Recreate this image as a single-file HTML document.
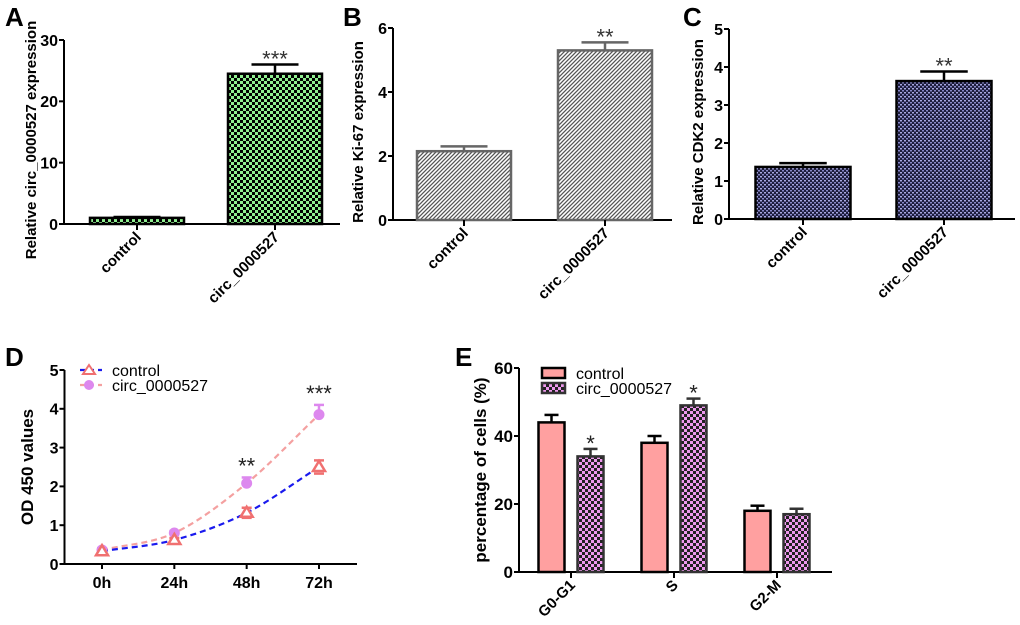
<!DOCTYPE html>
<html><head><meta charset="utf-8">
<style>
html,body{margin:0;padding:0;background:#fff;}
svg{display:block;font-family:"Liberation Sans",Arial,sans-serif;}
</style></head>
<body>
<svg id="fig" width="1020" height="625" viewBox="0 0 1020 625" xmlns="http://www.w3.org/2000/svg">
<defs>
<pattern id="pA" width="6" height="6" patternUnits="userSpaceOnUse"><rect width="6" height="6" fill="#90ee90"/><rect width="3" height="3" fill="#000"/><rect x="3" y="3" width="3" height="3" fill="#000"/></pattern>
<pattern id="pB" width="4" height="4" patternUnits="userSpaceOnUse"><rect width="4" height="4" fill="#fff"/><path d="M0,4 L4,0 M-1,1 L1,-1 M3,5 L5,3" stroke="#555" stroke-width="1.3"/></pattern>
<pattern id="pC" width="4" height="4" patternUnits="userSpaceOnUse"><rect width="4" height="4" fill="#1c1c3c"/><rect x="0" y="0" width="2" height="1.5" fill="#a8a8e0"/><rect x="2" y="2" width="2" height="1.5" fill="#8888c8"/></pattern>
<pattern id="pE" width="6" height="6" patternUnits="userSpaceOnUse"><rect width="6" height="6" fill="#ee99ee"/><rect width="3" height="3" fill="#222"/><rect x="3" y="3" width="3" height="3" fill="#222"/></pattern>
</defs>
<g id="root"></g>
</svg>
<script>
// Panel A
const catsABC = ["control","circ_0000527"];
const valsA = [1, 24.5];
const errA = [0.15, 1.5];
const ticksA = [0,10,20,30];
const sigA = ["","***"];
// Panel B
const valsB = [2.15, 5.3];
const errB = [0.15, 0.25];
const ticksB = [0,2,4,6];
const sigB = ["","**"];
// Panel C
const valsC = [1.37, 3.63];
const errC = [0.1, 0.25];
const ticksC = [0,1,2,3,4,5];
const sigC = ["","**"];
// Panel D
const timesD = ["0h","24h","48h","72h"];
const ctrlD = [0.33, 0.62, 1.32, 2.5];
const ctrlErrD = [0.05, 0.05, 0.13, 0.17];
const circD = [0.36, 0.8, 2.08, 3.85];
const circErrD = [0.05, 0.05, 0.15, 0.25];
const ticksD = [0,1,2,3,4,5];
const sigD = ["","","**","***"];
// Panel E
const phasesE = ["G0-G1","S","G2-M"];
const ctrlE = [44, 38, 18];
const ctrlErrE = [2.2, 2, 1.5];
const circE = [34, 49, 17];
const circErrE = [2.2, 2, 1.6];
const ticksE = [0,20,40,60];
const sigE = ["*","*",""];

const NS="http://www.w3.org/2000/svg";
const root=document.getElementById('root');
function mk(tag,attrs,parent,text){const e=document.createElementNS(NS,tag);for(const k in attrs)e.setAttribute(k,attrs[k]);if(text!==undefined)e.textContent=text;(parent||root).appendChild(e);return e;}
function scale(d0,d1,r0,r1){return v=>r0+(v-d0)/(d1-d0)*(r1-r0);}

function axes(g,ax,ay0,ay1,x1,ticks,y,fs,name){
  const a=mk('line',{x1:ax,y1:ay1,x2:ax,y2:ay0,stroke:'#000','stroke-width':2},g);
  
  
  const b=mk('line',{x1:ax-1,y1:ay0,x2:x1,y2:ay0,stroke:'#000','stroke-width':2},g);
  
  
  ticks.forEach(t=>{
    mk('line',{x1:ax-5,y1:y(t),x2:ax,y2:y(t),stroke:'#000','stroke-width':2},g);
    const tx=mk('text',{x:ax-6,y:y(t)+fs*0.36,'text-anchor':'end','font-size':fs,'font-weight':'bold'},g,String(t));
    
    
  });
}
function panelLabel(t,x,y){const e=mk('text',{x:x,y:y,'font-size':26,'font-weight':'bold'},root,t);
  
  }
function ytitle(g,t,x,y,size,name){const e=mk('text',{x:x,y:y,'text-anchor':'middle','font-size':size||15,'font-weight':'bold',transform:`rotate(-90 ${x} ${y})`},g,t);
  
  }
function rotLabel(g,t,x,y,size,name){const e=mk('text',{x:x,y:y,'text-anchor':'end','font-size':size||15,'font-weight':'bold',transform:`rotate(-45 ${x} ${y})`},g,t);
  
  }

function barPanel(cfg){
  const g=mk('g',{});
  
  
  const y=scale(0,cfg.ticks[cfg.ticks.length-1],cfg.y0,cfg.ytop);
  axes(g,cfg.ax,cfg.y0,cfg.ytop,cfg.x1,cfg.ticks,y,16,cfg.name);
  cfg.vals.forEach((v,i)=>{
    const cx=cfg.cx[i],w=cfg.w;
    const top=y(v), et=y(v+cfg.err[i]);
    mk('line',{x1:cx,y1:top,x2:cx,y2:et,stroke:cfg.stroke,'stroke-width':2.5},g);
    mk('line',{x1:cx-cfg.w*0.25,y1:et,x2:cx+cfg.w*0.25,y2:et,stroke:cfg.stroke,'stroke-width':2.5},g);
    const r=mk('rect',{x:cx-w/2,y:top,width:w,height:cfg.y0-top,fill:cfg.fill,stroke:cfg.stroke,'stroke-width':2.5},g);
    
    
    mk('line',{x1:cx,y1:cfg.y0,x2:cx,y2:cfg.y0+6,stroke:'#000','stroke-width':2},g);
    rotLabel(g,catsABC[i],cx+5,cfg.y0+14,15,'x-tick-label');
    if(cfg.sig[i]){const s=mk('text',{x:cx,y:et+2,'text-anchor':'middle','font-size':22,fill:'#333'},g,cfg.sig[i]);
      
      }
  });
  ytitle(g,cfg.title,cfg.tx,(cfg.y0+cfg.ytop)/2+8,15,cfg.name);
}
panelLabel('A',5,26);
barPanel({name:'panel-a-chart',ax:64,y0:224,ytop:40,x1:340,ticks:ticksA,vals:valsA,err:errA,sig:sigA,cx:[137,275],w:94,fill:'url(#pA)',stroke:'#000',title:'Relative circ_0000527 expression',tx:36});
panelLabel('B',343,26);
barPanel({name:'panel-b-chart',ax:393,y0:220,ytop:28,x1:672,ticks:ticksB,vals:valsB,err:errB,sig:sigB,cx:[464,605],w:94,fill:'url(#pB)',stroke:'#666',title:'Relative Ki-67 expression',tx:363});
panelLabel('C',683,26);
barPanel({name:'panel-c-chart',ax:729,y0:219,ytop:29,x1:1015,ticks:ticksC,vals:valsC,err:errC,sig:sigC,cx:[803,944],w:95,fill:'url(#pC)',stroke:'#000',title:'Relative CDK2 expression',tx:703});

// Panel D
panelLabel('D',5,366);
(function(){
  const g=mk('g',{});
  
  
  const y=scale(0,5,564,370);
  const xs=[102,174,247,319];
  const x=i=>xs[0]+i*((xs[3]-xs[0])/(timesD.length-1));
  axes(g,64.5,564,370,357,ticksD,y,16,'panel-d');
  timesD.forEach((t,i)=>{
    mk('line',{x1:x(i),y1:564,x2:x(i),y2:569,stroke:'#000','stroke-width':2},g);
    const e=mk('text',{x:x(i),y:588,'text-anchor':'middle','font-size':16,'font-weight':'bold'},g,t);
    
    
  });
  function curve(vals){let d='';vals.forEach((v,i)=>{
      if(i===0){d+=`M${x(0)},${y(v)}`;return;}
      const x0=x(i-1),x1=x(i),y1=y(v);
      const pm=i>1?(v-vals[i-2])/2:(v-vals[i-1]);
      const nm=i<vals.length-1?(vals[i+1]-vals[i-1])/2:(v-vals[i-1]);
      const dx=(x1-x0)/3;
      d+=` C${x0+dx},${y(vals[i-1]+pm/3)} ${x1-dx},${y(v-nm/3)} ${x1},${y1}`;});return d;}
  function ebars(vals,errs,col,low){vals.forEach((v,i)=>{
    mk('line',{x1:x(i),y1:y(v),x2:x(i),y2:y(v+errs[i]),stroke:col,'stroke-width':2.5},g);
    mk('line',{x1:x(i)-5,y1:y(v+errs[i]),x2:x(i)+5,y2:y(v+errs[i]),stroke:col,'stroke-width':2.5},g);
    if(low)mk('line',{x1:x(i)-5,y1:y(v-errs[i]),x2:x(i)+5,y2:y(v-errs[i]),stroke:col,'stroke-width':2.5},g);});}
  ebars(circD,circErrD,'#dd88ee',false);
  ebars(ctrlD,ctrlErrD,'#f07070',true);
  const c2=mk('path',{d:curve(circD),fill:'none',stroke:'#f4a0a0','stroke-width':2.2,'stroke-dasharray':'6,4'},g);
  
  
  const c1=mk('path',{d:curve(ctrlD),fill:'none',stroke:'#1a1aee','stroke-width':2.2,'stroke-dasharray':'6,4'},g);
  
  
  circD.forEach((v,i)=>{const p=mk('circle',{cx:x(i),cy:y(v),r:5.5,fill:'#dd88ee'},g);
    
    });
  ctrlD.forEach((v,i)=>{const cx=x(i),cy=y(v);const p=mk('path',{d:`M${cx},${cy-6} L${cx+6},${cy+4} L${cx-6},${cy+4} Z`,fill:'#fff',stroke:'#f07070','stroke-width':2.5},g);
    
    });
  sigD.forEach((s,i)=>{if(!s)return;const top=Math.max(circD[i]+circErrD[i],ctrlD[i]+ctrlErrD[i]);
    const e=mk('text',{x:x(i),y:y(top)-4,'text-anchor':'middle','font-size':22,fill:'#222'},g,s);
    
    });
  const l1=mk('g',{},g);
  mk('line',{x1:80,y1:370,x2:102,y2:370,stroke:'#1a1aee','stroke-width':2.2,'stroke-dasharray':'5,4'},l1);
  mk('path',{d:'M89,365 L95,374 L83,374 Z',fill:'#fff',stroke:'#f07070','stroke-width':2},l1);
  mk('text',{x:112,y:376,'font-size':16},l1,'control');
  const l2=mk('g',{},g);
  mk('line',{x1:80,y1:385,x2:102,y2:385,stroke:'#f4a0a0','stroke-width':2.2,'stroke-dasharray':'5,4'},l2);
  mk('circle',{cx:89,cy:385,r:5,fill:'#dd88ee'},l2);
  mk('text',{x:112,y:391,'font-size':16},l2,'circ_0000527');
  ytitle(g,'OD 450 values',33,467,17,'panel-d');
})();

// Panel E
panelLabel('E',455,366);
(function(){
  const g=mk('g',{});
  
  
  const y=scale(0,60,572,368);
  const x0=571,step=103,w=26,off=19.5;
  const xc=i=>x0+i*step;
  axes(g,519,572,368,832,ticksE,y,17,'panel-e');
  function bar(v,e,cx,fill,stroke,nm){
    const top=y(v),et=y(v+e);
    mk('line',{x1:cx,y1:top,x2:cx,y2:et,stroke:stroke,'stroke-width':2.5},g);
    mk('line',{x1:cx-7,y1:et,x2:cx+7,y2:et,stroke:stroke,'stroke-width':2.5},g);
    const r=mk('rect',{x:cx-w/2,y:top,width:w,height:572-top,fill:fill,stroke:stroke,'stroke-width':2.5},g);
    
    
  }
  phasesE.forEach((p,i)=>{
    bar(ctrlE[i],ctrlErrE[i],xc(i)-off,'#ffa0a0','#000','bar-control-'+p.toLowerCase());
    bar(circE[i],circErrE[i],xc(i)+off,'url(#pE)','#333','bar-circ-'+p.toLowerCase());
    mk('line',{x1:xc(i),y1:572,x2:xc(i),y2:578,stroke:'#000','stroke-width':2},g);
    rotLabel(g,p,xc(i)+5,586,15,'x-tick-label');
    if(sigE[i]){const e=mk('text',{x:xc(i)+off,y:y(circE[i]+circErrE[i])+2,'text-anchor':'middle','font-size':22,fill:'#222'},g,sigE[i]);
      
      }
  });
  const l1=mk('g',{},g);
  mk('rect',{x:542,y:368,width:23,height:10,fill:'#ffa0a0',stroke:'#000','stroke-width':2.5},l1);
  mk('text',{x:576,y:379,'font-size':16},l1,'control');
  const l2=mk('g',{},g);
  mk('rect',{x:542,y:383,width:23,height:10,fill:'url(#pE)',stroke:'#333','stroke-width':2.5},l2);
  mk('text',{x:576,y:394,'font-size':16},l2,'circ_0000527');
  ytitle(g,'percentage of cells (%)',486,470,17,'panel-e');
})();
</script>
</body></html>
